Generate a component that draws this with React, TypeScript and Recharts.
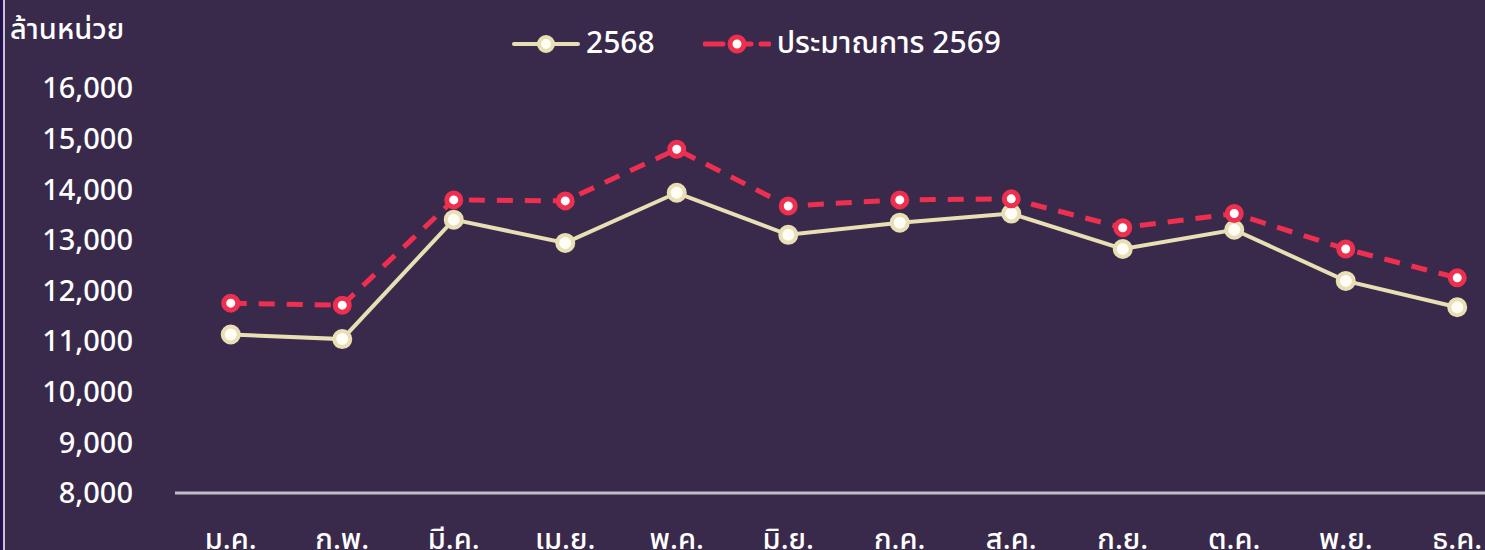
import React from "react";
import { LineChart, Line, XAxis, YAxis, Legend } from "recharts";

const months: string[] = [
  "ม.ค.", "ก.พ.", "มี.ค.", "เม.ย.", "พ.ค.", "มิ.ย.",
  "ก.ค.", "ส.ค.", "ก.ย.", "ต.ค.", "พ.ย.", "ธ.ค.",
];

const actual2568: number[] = [
  11130, 11040, 13400, 12940, 13930, 13100,
  13340, 13520, 12820, 13200, 12190, 11670,
];

const forecast2569: number[] = [
  11750, 11710, 13790, 13770, 14790, 13670,
  13790, 13810, 13240, 13520, 12820, 12250,
];

const yTicks: number[] = [8000, 9000, 10000, 11000, 12000, 13000, 14000, 15000, 16000];

const data = months.map((m, i) => ({
  month: m,
  actual: actual2568[i],
  forecast: forecast2569[i],
}));

const BG = "#392a4b";
const CREAM = "#e9dfb5";
const RED = "#ef2f4f";
const FONT = '"Noto Sans Thai", Kanit, "Noto Sans", "DejaVu Sans", sans-serif';
const LEGEND_H = 40;

const LegendIcon = ({ color, dashed }: { color: string; dashed?: boolean }) => (
  <svg width={68} height={24} style={{ display: "block" }}>
    <line
      x1={2}
      y1={12}
      x2={66}
      y2={12}
      stroke={color}
      strokeWidth={dashed ? 5 : 4}
      strokeDasharray={dashed ? "18 10" : undefined}
      strokeLinecap="round"
    />
    <circle cx={34} cy={12} r={7} fill="#fffdf5" stroke={color} strokeWidth={dashed ? 5 : 4} />
  </svg>
);

const renderLegend = () => (
  <div
    style={{
      display: "flex",
      justifyContent: "center",
      alignItems: "center",
      height: LEGEND_H,
      fontFamily: FONT,
      fontSize: 30,
      fontWeight: 500,
      color: "#ffffff",
    }}
  >
    <div style={{ display: "flex", alignItems: "center", marginRight: 48 }}>
      <LegendIcon color={CREAM} />
      <span style={{ marginLeft: 6 }}>2568</span>
    </div>
    <div style={{ display: "flex", alignItems: "center" }}>
      <LegendIcon color={RED} dashed />
      <span style={{ marginLeft: 6 }}>ประมาณการ 2569</span>
    </div>
  </div>
);

export default function App() {
  return (
    <div
      style={{
        position: "absolute",
        left: 0,
        top: 0,
        width: 1485,
        height: 550,
        overflow: "hidden",
        background: BG,
      }}
    >
      <div
        style={{
          position: "absolute",
          left: 0,
          top: 0,
          width: 3,
          height: 550,
          background: "#24104e",
        }}
      />
      <div
        style={{
          position: "absolute",
          left: 3,
          top: 0,
          width: 2,
          height: 550,
          background: "#c9c2d6",
        }}
      />
      <div
        style={{
          position: "absolute",
          left: 10,
          top: 8,
          fontFamily: FONT,
          fontSize: 29,
          fontWeight: 500,
          color: "#ffffff",
        }}
      >
        ล้านหน่วย
      </div>
      <div style={{ position: "absolute", left: 0, top: 0 }}>
        <LineChart
          width={1513}
          height={560}
          data={data}
          margin={{ top: 88 - LEGEND_H, right: 0, bottom: 0, left: 0 }}
        >
          <XAxis
            dataKey="month"
            scale="band"
            axisLine={{ stroke: "#c2bdca", strokeWidth: 3 }}
            tickLine={false}
            tickSize={0}
            tickMargin={35}
            height={67}
            interval={0}
            tick={{ fill: "#ffffff", fontSize: 29, fontWeight: 500, fontFamily: FONT }}
          />
          <YAxis
            domain={[8000, 16000]}
            ticks={yTicks}
            width={175}
            axisLine={false}
            tickLine={false}
            tickSize={0}
            tickMargin={42}
            tickFormatter={(v: number) => v.toLocaleString("en-US")}
            tick={{ fill: "#ffffff", fontSize: 29, fontWeight: 500, fontFamily: FONT }}
          />
          <Legend
            verticalAlign="top"
            height={LEGEND_H}
            content={renderLegend}
            wrapperStyle={{ top: 24, left: 0, width: 1513 }}
          />
          <Line
            dataKey="actual"
            name="2568"
            stroke={CREAM}
            strokeWidth={4}
            dot={{ r: 8, fill: "#fffdf5", stroke: CREAM, strokeWidth: 4 }}
            isAnimationActive={false}
          />
          <Line
            dataKey="forecast"
            name="ประมาณการ 2569"
            stroke={RED}
            strokeWidth={5}
            strokeDasharray="16 12"
            dot={{ r: 7, fill: "#ffffff", stroke: RED, strokeWidth: 5, strokeDasharray: "" }}
            isAnimationActive={false}
          />
        </LineChart>
      </div>
    </div>
  );
}
